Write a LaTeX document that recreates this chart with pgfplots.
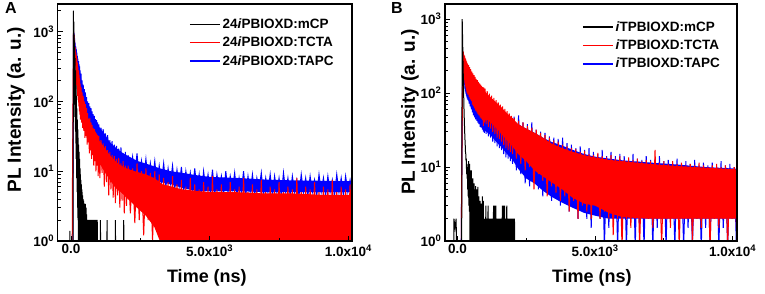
\documentclass[border=0pt]{standalone}
\usepackage{pgfplots}
\pgfplotsset{compat=1.18}
\usepackage{fontspec}
\setmainfont{Liberation Sans}
\definecolor{pr}{RGB}{255,0,0}
\definecolor{pb}{RGB}{0,0,255}
\begin{document}
\begin{tikzpicture}
\useasboundingbox (0,0) rectangle (765pt,294pt);
\node[font=\fontsize{16}{16}\selectfont\bfseries] at (11pt,286pt) {A};
\node[font=\fontsize{16}{16}\selectfont\bfseries] at (397pt,286pt) {B};
% ---------------- Panel A ----------------
\begin{axis}[ymode=log, scale only axis, height=237pt, ymin=1,
    axis on top, axis line style={line width=1.3pt},
    tick align=inside, xtick pos=left, ytick pos=left,
    major tick length=5pt, minor tick length=3pt,
    tick style={black, line width=0.8pt},
    scaled x ticks=false,
    xtick={0,5000,10000},
    xticklabels={0.0, 5.0x10\textsuperscript{3}, 1.0x10\textsuperscript{4}},
    minor xtick={2500,7500},
    ytick={1,10,100,1000},
    yticklabels={10\textsuperscript{0},10\textsuperscript{1},10\textsuperscript{2},10\textsuperscript{3}},
    minor ytick={2,3,4,5,6,7,8,9,20,30,40,50,60,70,80,90,200,300,400,500,600,700,800,900,2000},
    ticklabel style={font=\fontsize{13.5}{15}\selectfont\bfseries},
    xlabel={Time (ns)}, ylabel={PL Intensity (a. u.)},
    legend style={anchor=north east, draw=none, fill=none, inner sep=0pt,
      font=\fontsize{13.5}{15}\selectfont\bfseries, row sep=3pt},
    legend cell align=left,
    legend image code/.code={\draw[line width=1.6pt, #1] (0pt,0pt) -- (30pt,0pt);},
  at={(57.7pt,53pt)}, anchor=south west, width=294.3pt,
  xmin=-480, xmax=10130, ymax=2500,
  xlabel style={font=\fontsize{18}{20}\selectfont\bfseries, anchor=center, at={(axis description cs:0.507,-0.156)}},
  ylabel style={font=\fontsize{19}{21}\selectfont\bfseries, anchor=center, at={(axis description cs:-0.142,0.553)}},
  legend style={at={(0.945,0.947)}}]
\addlegendimage{draw=black}\addlegendentry{24\textit{i}PBIOXD:mCP}
\addlegendimage{draw=pr}\addlegendentry{24\textit{i}PBIOXD:TCTA}
\addlegendimage{draw=pb}\addlegendentry{24\textit{i}PBIOXD:TAPC}
% TAPC (blue): core band
\addplot[fill=pb, draw=none, forget plot] coordinates {
(95,900) (200,470) (300,300) (400,180) (500,135) (600,92) (700,75) (800,60) (900,52) (1000,44) (1200,35) (1400,26) (1600,22) (1800,19) (2000,17) (2400,14) (2800,12.5) (3200,11) (3600,10) (4000,9.5) (4500,8.8) (5000,8.3) (6000,8) (7000,7.6) (8000,7.4) (9000,7.3) (10140,7.2)
(10140,5) (9000,5) (8000,5) (7000,5) (6000,5.2) (5000,5.2) (4500,5.2) (4000,5.8) (3600,6.5) (3200,7) (2800,8) (2400,8.5) (2000,10) (1800,11.5) (1600,13.5) (1400,17) (1200,22) (1000,28) (900,33) (800,40) (700,48) (600,60) (500,88) (400,110) (300,190) (200,340) (95,820)
} -- cycle;
% TAPC (blue): channel data
\addplot[pb, line width=1pt, forget plot] coordinates {
(60,0.5) (90,1000)
(100,800) (110,950) (120,620) (130,800) (140,520) (150,700) (160,430) (170,620) (180,380) (190,560) (200,320) (210,500) (220,280) (230,450) (240,240) (250,410) (260,210) (270,380) (280,190) (290,340) (300,170) (310,320) (320,150) (330,280) (340,130)
(360,250) (380,120) (400,200) (420,100) (440,175) (460,90) (480,150) (500,80) (520,135) (540,70) (560,115) (580,62) (600,100) (620,56) (640,95) (660,50) (680,85) (700,45) (720,80) (740,42) (760,72) (780,38) (800,66) (820,36) (840,62) (860,33) (880,56) (900,30) (920,54) (940,28) (960,50) (980,26) (1000,47)
(1040,24) (1080,42) (1120,22) (1160,40) (1200,20) (1240,35) (1280,18) (1320,33) (1360,16) (1400,28) (1440,15) (1480,27) (1520,14) (1560,24) (1600,12.5) (1640,23) (1680,12) (1720,21) (1760,11) (1800,22) (1840,10.5) (1880,18) (1920,10) (1960,19) (2000,9.5)
(2060,17) (2140,8) (2220,16) (2300,9) (2380,18) (2460,7.5) (2540,14) (2620,8) (2700,15) (2780,7) (2860,13) (2940,7.5) (3020,14) (3100,6.5) (3180,12) (3260,7) (3340,13) (3420,6) (3500,11) (3580,6.5) (3660,12) (3740,5.5) (3820,10.5) (3900,6) (3980,11.5) (4060,5) (4140,10) (4220,6) (4300,9.5) (4380,5) (4460,11) (4540,5.5) (4620,9) (4700,4.5) (4780,10) (4860,5.5) (4940,9) (5020,5) (5100,10.5) (5180,4.5) (5260,9) (5340,5.5) (5420,8.5) (5500,4.5) (5580,10) (5660,5) (5740,8.5) (5820,5.5) (5900,9.5) (5980,4.5) (6060,8) (6140,5) (6220,10) (6300,4.5) (6380,8.5) (6460,5) (6540,9) (6620,4.5) (6700,8) (6780,5.5) (6860,9.5) (6940,4.5) (7020,8) (7100,5) (7180,9) (7260,4.5) (7340,8.5) (7420,5) (7500,8) (7580,4.5) (7660,9.5) (7740,5) (7820,8) (7900,4.5) (7980,8.5) (8060,5) (8140,7.5) (8220,4.5) (8300,9) (8380,5) (8460,8) (8540,4.5) (8620,8.5) (8700,5) (8780,7.5) (8860,4.5) (8940,9) (9020,5) (9100,8) (9180,4.5) (9260,8.5) (9340,5) (9420,7.5) (9500,4.5) (9580,9) (9660,5) (9740,8) (9820,4.5) (9900,8.5) (9980,5) (10060,7.5) (10140,5)
};
% TCTA (red): core band
\addplot[fill=pr, draw=none, forget plot] coordinates {
(95,900) (100,850) (150,560) (200,380) (250,270) (300,200) (340,160) (400,120) (500,85) (600,60) (700,48) (800,38) (900,33) (1000,28) (1200,22) (1400,17) (1600,14) (1800,12) (2000,11) (2300,10) (2700,9) (3000,8) (3300,6.5) (4000,5.5) (5000,5) (6000,5) (7000,4.8) (8000,4.8) (9000,4.6) (10140,4.6)
(10140,0.8) (3300,0.8) (3000,1.6) (2700,2.3) (2300,3.2) (2000,4.2) (1800,5) (1600,5.8) (1400,7.5) (1200,10) (1000,13.5) (900,16) (800,21) (700,27) (600,34) (500,42) (400,55) (340,68) (300,92) (250,130) (200,200) (150,450) (100,720) (95,850)
} -- cycle;
% TCTA (red): channel data
\addplot[pr, line width=1pt, forget plot] coordinates {
(40,0.5) (55,11) (90,1000)
(100,700) (110,900) (120,560) (130,750) (140,420) (150,600) (160,330) (170,520) (180,240) (190,460) (200,170) (210,420) (220,150) (230,360) (240,120) (250,310) (260,105) (270,280) (280,85) (290,240) (300,72) (310,215) (320,65) (330,180) (340,55)
(360,160) (380,50) (400,135) (420,42) (440,120) (460,38) (480,100) (500,30) (520,92) (540,32) (560,80) (580,24) (600,68) (620,26) (640,56) (660,18) (680,58) (700,20) (720,50) (740,15) (760,46) (780,17) (800,42) (820,12) (840,40) (860,14) (880,37) (900,10) (920,35) (940,12) (960,33) (980,8.5) (1000,32)
(1040,8) (1080,28) (1120,9.5) (1160,25) (1200,6) (1240,23) (1280,7) (1320,20) (1360,4.5) (1400,19) (1440,5.5) (1480,17) (1520,4.2) (1560,16.5) (1600,3.5) (1640,15) (1680,4.5) (1720,15.5) (1760,3) (1800,13) (1840,3.8) (1880,14) (1920,2.5) (1960,12) (2000,3.2)
(2060,12) (2140,2.5) (2220,11) (2300,1.8) (2380,13) (2460,2) (2540,10) (2620,1.2) (2700,11) (2780,2) (2860,9.5) (2940,1) (3020,10) (3100,1.5) (3180,9)
(3260,0.8) (3340,8) (3420,1) (3500,7) (3580,0.8) (3660,8.5) (3740,0.8) (3820,6.5) (3900,1.2) (3980,7.5) (4060,0.8) (4140,6) (4220,0.8) (4300,8) (4380,1) (4460,6.5) (4540,0.8) (4620,5.5) (4700,0.8) (4780,7) (4860,1.3) (4940,6) (5020,0.8) (5100,8.5) (5180,0.8) (5260,5.5) (5340,1) (5420,6.5) (5500,0.8) (5580,5) (5660,0.8) (5740,7) (5820,1.2) (5900,5.5) (5980,0.8) (6060,6) (6140,0.8) (6220,8) (6300,1) (6380,5) (6460,0.8) (6540,6.5) (6620,0.8) (6700,5.5) (6780,1) (6860,7.5) (6940,0.8) (7020,5) (7100,0.8) (7180,6) (7260,1.2) (7340,5.5) (7420,0.8) (7500,7) (7580,0.8) (7660,5) (7740,1) (7820,6) (7900,0.8) (7980,5.5) (8060,0.8) (8140,8) (8220,1) (8300,5) (8380,0.8) (8460,6) (8540,0.8) (8620,5.5) (8700,1.2) (8780,7) (8860,0.8) (8940,5) (9020,0.8) (9100,6) (9180,1) (9260,5.5) (9340,0.8) (9420,7.5) (9500,0.8) (9580,5) (9660,1) (9740,6) (9820,0.8) (9900,5.5) (9980,0.8) (10060,6.5) (10140,0.8)
};
% mCP (black)
\addplot[black, line width=1pt, forget plot] coordinates {
(-50,0.5) (-40,1.4) (-30,0.5) (75,0.5)
(85,2000) (92,300) (100,1400) (108,150) (116,900) (124,90) (132,600) (140,60) (148,420) (156,40) (164,280) (172,25) (180,170) (188,15) (196,120) (204,8) (212,80) (220,5) (228,55) (236,3) (244,40) (252,2) (260,30) (268,1) (276,24) (284,0.5) (292,19) (300,0.5) (308,15) (316,0.5) (324,11) (332,0.5) (340,9) (348,0.5) (356,7.5) (364,0.5) (372,6.5) (380,0.5) (388,5.5) (396,0.5) (404,5) (412,0.5) (420,4.5) (428,0.5) (436,4) (444,0.5) (452,3.8) (460,0.5) (468,3.5) (476,0.5) (484,3.2) (492,0.5) (500,3) (508,0.5) (516,3.4) (524,0.5) (532,2.6) (540,0.5) (548,3) (556,0.5) (564,2.4) (572,0.5)
(585,2) (600,0.5) (615,2) (630,0.5) (645,2) (660,0.5) (675,2) (690,0.5) (705,2) (720,0.5) (735,2) (750,0.5) (765,2) (780,0.5) (795,2) (810,0.5) (825,2) (840,0.5) (855,2) (870,0.5) (885,2) (900,0.5) (915,2) (930,0.5) (945,2) (960,0.5)
(1050,0.5) (1060,2) (1070,0.5) (1290,0.5) (1300,2) (1310,0.5) (1590,0.5) (1600,2) (1610,0.5) (1890,0.5) (1900,2) (1910,0.5)
};
\end{axis}
% ---------------- Panel B ----------------
\begin{axis}[ymode=log, scale only axis, height=237pt, ymin=1,
    axis on top, axis line style={line width=1.3pt},
    tick align=inside, xtick pos=left, ytick pos=left,
    major tick length=5pt, minor tick length=3pt,
    tick style={black, line width=0.8pt},
    scaled x ticks=false,
    xtick={0,5000,10000},
    xticklabels={0.0, 5.0x10\textsuperscript{3}, 1.0x10\textsuperscript{4}},
    minor xtick={2500,7500},
    ytick={1,10,100,1000},
    yticklabels={10\textsuperscript{0},10\textsuperscript{1},10\textsuperscript{2},10\textsuperscript{3}},
    minor ytick={2,3,4,5,6,7,8,9,20,30,40,50,60,70,80,90,200,300,400,500,600,700,800,900},
    ticklabel style={font=\fontsize{13.5}{15}\selectfont\bfseries},
    xlabel={Time (ns)}, ylabel={PL Intensity (a. u.)},
    legend style={anchor=north east, draw=none, fill=none, inner sep=0pt,
      font=\fontsize{13.5}{15}\selectfont\bfseries, row sep=3pt},
    legend cell align=left,
    legend image code/.code={\draw[line width=1.6pt, #1] (0pt,0pt) -- (30pt,0pt);},
  at={(445pt,53pt)}, anchor=south west, width=292pt,
  xmin=-455, xmax=10160, ymax=1600,
  xlabel style={font=\fontsize{18}{20}\selectfont\bfseries, anchor=center, at={(axis description cs:0.503,-0.156)}},
  ylabel style={font=\fontsize{19}{21}\selectfont\bfseries, anchor=center, at={(axis description cs:-0.12,0.544)}},
  legend style={at={(0.949,0.935)}}]
\addlegendimage{draw=black}\addlegendentry{\textit{i}TPBIOXD:mCP}
\addlegendimage{draw=pr}\addlegendentry{\textit{i}TPBIOXD:TCTA}
\addlegendimage{draw=pb}\addlegendentry{\textit{i}TPBIOXD:TAPC}
% TAPC (blue): core band
\addplot[fill=pb, draw=none, forget plot] coordinates {
(200,280) (300,230) (400,195) (500,170) (600,145) (700,128) (800,112) (1000,90) (1200,76) (1400,64) (1600,55) (1800,49) (2000,43) (2200,38) (2500,33) (2800,29) (3100,25) (3400,22) (3800,19.5) (4200,17) (4600,15) (5000,13.8) (5500,13) (6000,12.3) (7000,11.5) (8000,10.8) (9000,10) (10140,9.5)
(10140,2) (6000,2) (5500,2) (5000,2.2) (4600,2.4) (4200,2.8) (3800,3.3) (3400,4) (3100,4.8) (2800,6) (2500,7) (2200,9.5) (2000,12.5) (1800,15) (1600,18.5) (1400,22) (1200,27) (1000,31) (800,40) (700,46) (600,52) (500,66) (400,78) (300,105) (200,180)
} -- cycle;
% TAPC (blue): channel data
\addplot[pb, line width=1pt, forget plot] coordinates {
(130,0.5) (140,2) (190,300)
(205,170) (215,300) (225,150) (235,290) (245,130) (255,280) (265,115) (275,265) (285,105) (295,255) (305,98) (315,240) (325,92) (335,230) (345,85)
(360,220) (380,80) (400,210) (420,72) (440,195) (460,66) (480,185) (500,60) (520,170) (540,55) (560,160) (580,50) (600,150) (620,47) (640,145) (660,44) (680,138) (700,42) (720,130) (740,40) (760,125) (780,38) (800,118) (820,35) (840,114) (860,34) (880,108) (900,32) (920,105) (940,30) (960,100) (980,29) (1000,98)
(1040,28) (1080,92) (1120,26) (1160,86) (1200,25) (1240,80) (1280,22) (1320,75) (1360,21) (1400,70) (1440,19) (1480,66) (1520,18) (1560,62) (1600,17) (1640,58) (1680,15) (1720,55) (1760,13.5) (1800,51) (1840,13) (1880,48) (1920,12) (1960,45) (2000,11)
(2060,48) (2140,9) (2220,50) (2300,8) (2380,40) (2460,6) (2540,38) (2620,5.5) (2700,40) (2780,7) (2860,32) (2940,5) (3020,30) (3100,4) (3180,29) (3260,5) (3340,26) (3420,3.5) (3500,25) (3580,4) (3660,24) (3740,3) (3820,25) (3900,3.5) (3980,21) (4060,2.5) (4140,20) (4220,3) (4300,18) (4380,2) (4460,19) (4540,2.5) (4620,17) (4700,2) (4780,18) (4860,1.5) (4940,16) (5020,2.5) (5100,15) (5180,2) (5260,17) (5340,0.8) (5420,14) (5500,1.5) (5580,16) (5660,2) (5740,14) (5820,0.8) (5900,15) (5980,2) (6060,14) (6140,0.8) (6220,13) (6300,2) (6380,15) (6460,0.8) (6540,13) (6620,1.5) (6700,12.5) (6780,0.8) (6860,14) (6940,2) (7020,12.5) (7100,0.8) (7180,13) (7260,1.5) (7340,14) (7420,2) (7500,12) (7580,0.8) (7660,12.5) (7740,2) (7820,11.5) (7900,0.8) (7980,13) (8060,2) (8140,11) (8220,0.8) (8300,12) (8380,1.5) (8460,11) (8540,0.8) (8620,12.5) (8700,2) (8780,10.5) (8860,0.8) (8940,11.5) (9020,1.5) (9100,10.5) (9180,0.8) (9260,11.5) (9340,2) (9420,10) (9500,0.8) (9580,12) (9660,1.5) (9740,10.5) (9820,0.8) (9900,11) (9980,2) (10060,10) (10140,0.8)
};
% TCTA (red): core band
\addplot[fill=pr, draw=none, forget plot] coordinates {
(200,330) (250,290) (300,260) (350,230) (400,215) (500,190) (600,160) (700,140) (800,122) (900,115) (1000,105) (1200,88) (1400,75) (1600,64) (1800,53) (2000,46) (2200,38) (2500,33) (2800,29) (3100,25) (3400,21) (3800,18) (4200,16) (4600,14.5) (5000,13.5) (5500,12.5) (6000,12) (7000,11) (8000,10.3) (9000,9.8) (10140,9.3)
(10140,2) (9000,2) (8000,2) (7000,2) (6000,2.1) (5500,2.4) (5000,3) (4600,3.2) (4200,3.8) (3800,5) (3400,6.3) (3100,7.5) (2800,9) (2500,12) (2200,15) (2000,19) (1800,23) (1600,28) (1400,34) (1200,40) (1000,46) (900,50) (800,56) (700,64) (600,74) (500,88) (400,100) (350,112) (300,132) (250,165) (200,220)
} -- cycle;
% TCTA (red): channel data
\addplot[pr, line width=1pt, forget plot] coordinates {
(130,0.5) (150,5.5) (195,370)
(205,200) (215,360) (225,170) (235,330) (245,150) (255,320) (265,135) (275,300) (285,125) (295,290) (305,118) (315,275) (325,110) (335,265) (345,100)
(360,250) (380,95) (400,240) (420,88) (440,225) (460,82) (480,210) (500,78) (520,195) (540,70) (560,185) (580,66) (600,175) (620,62) (640,165) (660,58) (680,155) (700,55) (720,150) (740,52) (760,142) (780,50) (800,135) (820,47) (840,130) (860,45) (880,125) (900,43) (920,120) (940,36) (960,118) (980,40) (1000,115)
(1040,38) (1080,106) (1120,35) (1160,98) (1200,33) (1240,92) (1280,30) (1320,86) (1360,28) (1400,80) (1440,25) (1480,75) (1520,24) (1560,70) (1600,22) (1640,66) (1680,20) (1720,61) (1760,18) (1800,57) (1840,17) (1880,53) (1920,16) (1960,49) (2000,15)
(2060,46) (2140,13) (2220,42) (2300,11) (2380,40) (2460,9) (2540,36) (2620,10) (2700,34) (2780,5) (2860,32) (2940,8) (3020,29) (3100,6.5) (3180,27) (3260,4) (3340,25) (3420,5.5) (3500,23) (3580,4.5) (3660,22) (3740,3.5) (3820,20) (3900,4) (3980,19) (4060,2.5) (4140,18) (4220,3.5) (4300,17.5) (4380,2) (4460,16) (4540,3) (4620,16.5) (4700,2.5) (4780,15) (4860,2) (4940,14.5) (5020,3) (5100,15.5) (5180,2) (5260,14) (5340,2.5) (5420,13.5) (5500,2) (5580,14.5) (5660,1.2) (5740,13) (5820,2) (5900,14) (5980,0.8) (6060,12.5) (6140,2) (6220,13.5) (6300,1.5) (6380,12.5) (6460,2) (6540,13) (6620,0.8) (6700,12) (6780,2) (6860,12.5) (6940,2) (7020,12) (7100,1.5) (7180,17) (7260,2) (7340,11.5) (7420,0.8) (7500,12) (7580,2) (7660,11) (7740,1.5) (7820,12) (7900,2) (7980,11) (8060,0.8) (8140,11.5) (8220,2) (8300,10.5) (8380,2) (8460,11) (8540,1) (8620,10.5) (8700,2) (8780,11.5) (8860,1.5) (8940,10.5) (9020,2) (9100,10) (9180,0.8) (9260,10.5) (9340,2) (9420,11) (9500,1.5) (9580,10) (9660,2) (9740,10.5) (9820,0.8) (9900,9.5) (9980,2) (10060,10) (10140,1.5)
};
% mCP (black)
\addplot[black, line width=1pt, forget plot] coordinates {
(-140,0.5) (-130,2) (-90,1.5) (-50,2) (-30,0.5) (150,0.5)
(170,1000) (180,650) (190,420) (200,260) (210,170) (220,110) (230,75) (240,52) (250,40) (260,30) (270,24) (280,20) (290,16) (300,15) (310,12) (320,13) (330,8) (340,11) (350,7) (360,10) (370,5) (380,9) (390,4) (400,12) (410,3) (420,10) (430,2.5) (440,11) (450,1) (460,9) (470,0.5) (480,8) (490,0.5) (500,9) (510,0.5) (520,7) (530,0.5) (540,6) (550,0.5) (560,7) (570,0.5) (580,5) (590,0.5) (600,6) (610,0.5) (620,5) (630,0.5) (640,4.5) (650,0.5) (660,5.5) (670,0.5) (680,4) (690,0.5) (700,5) (710,0.5) (720,4) (730,0.5) (740,5.4) (750,0.5) (760,3.5) (770,0.5) (780,4) (790,0.5) (800,3) (810,0.5) (820,3.5) (830,0.5) (840,3) (850,0.5) (860,3.2) (870,0.5) (880,2.5) (890,0.5) (900,4) (910,0.5) (920,3) (930,0.5) (940,3.5) (950,0.5)
(970,0.5) (990,2) (1010,0.5) (1030,3) (1050,0.5) (1070,2) (1090,0.5) (1110,3) (1130,0.5) (1150,2) (1170,0.5) (1190,2) (1210,0.5) (1230,2) (1250,0.5) (1270,2) (1290,0.5) (1310,3) (1330,0.5) (1350,3) (1370,0.5) (1390,3) (1410,0.5) (1430,2) (1450,0.5) (1470,2) (1490,0.5) (1510,2) (1530,0.5) (1550,2) (1570,0.5) (1590,2) (1610,0.5) (1630,3) (1650,0.5) (1670,3) (1690,0.5) (1710,3) (1730,0.5) (1750,2) (1770,0.5) (1790,3) (1810,0.5) (1830,2) (1850,0.5) (1870,2) (1890,0.5) (1910,2) (1930,0.5) (1950,2) (1970,0.5) (1990,2) (2010,0.5) (2030,2) (2050,0.5) (2070,2) (2090,0.5)
};
\end{axis}
\end{tikzpicture}
\end{document}
